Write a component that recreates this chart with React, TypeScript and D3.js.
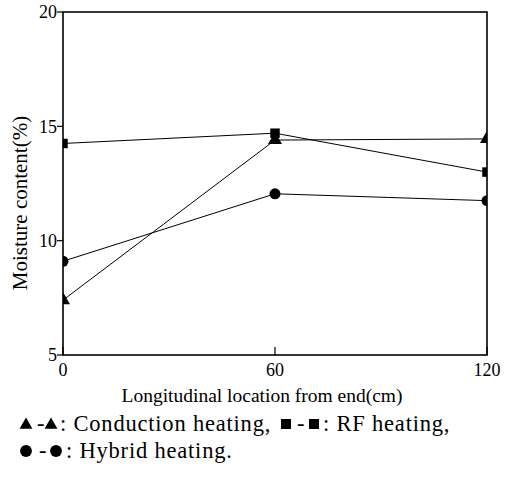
import React from 'react';
import * as d3 from 'd3';

// ─── data ─────────────────────────────────────────────────────────────────
const locations = [0, 60, 120];
const conduction = [7.4, 14.4, 14.45];
const rfHeating = [14.25, 14.7, 13.0];
const hybrid = [9.1, 12.05, 11.75];
const xTicks = [0, 60, 120];
const yTicks = [5, 10, 15, 20];

const W = 513;
const H = 490;
const m = { left: 63, right: 26, top: 12, bottom: 135 };
const FONT = '"Liberation Serif", "Times New Roman", serif';

const x = d3.scaleLinear().domain([0, 120]).range([m.left, W - m.right]);
const y = d3.scaleLinear().domain([5, 20]).range([H - m.bottom, m.top]);

const series = [
  { name: 'Conduction heating', values: conduction, symbol: d3.symbolTriangle, size: 85 },
  { name: 'RF heating', values: rfHeating, symbol: d3.symbolSquare, size: 90 },
  { name: 'Hybrid heating', values: hybrid, symbol: d3.symbolCircle, size: 95 },
];

const line = d3
  .line<number>()
  .x((_, i) => x(locations[i]))
  .y(d => y(d));

const sym = (type: d3.SymbolType, size: number) => d3.symbol().type(type).size(size)() as string;

const App: React.FC = () => {
  const x0 = x.range()[0];
  const x1 = x.range()[1];
  const y0 = y.range()[0];
  const y1 = y.range()[1];

  return (
    <svg width={W} height={H} style={{ position: 'absolute', left: 0, top: 0, background: '#fff' }}>
      <defs>
        <clipPath id="plot">
          <rect x={x0} y={y1} width={x1 - x0} height={y0 - y1} />
        </clipPath>
      </defs>

      {/* series */}
      <g clipPath="url(#plot)">
        {series.map(s => (
          <g key={s.name}>
            <path d={line(s.values) as string} fill="none" stroke="#000" strokeWidth={1} />
            {s.values.map((v, i) => (
              <path
                key={i}
                d={sym(s.symbol, s.size)}
                transform={`translate(${x(locations[i])},${y(v)})`}
                fill="#000"
              />
            ))}
          </g>
        ))}
      </g>

      {/* frame */}
      <rect x={x0} y={y1} width={x1 - x0} height={y0 - y1} fill="none" stroke="#000" strokeWidth={1.6} />

      {/* y ticks */}
      {yTicks.map(t => (
        <g key={t}>
          <line x1={x0 - 6} x2={x0} y1={y(t)} y2={y(t)} stroke="#000" strokeWidth={1.2} />
          <text x={x0 - 6} y={y(t)} dy="0.35em" textAnchor="end" fontFamily={FONT} fontSize={18}>
            {t}
          </text>
        </g>
      ))}

      {/* x ticks */}
      {xTicks.map(t => (
        <g key={t}>
          <line x1={x(t)} x2={x(t)} y1={y0} y2={y0 - 8} stroke="#000" strokeWidth={1.2} />
          <text x={x(t)} y={y0 + 21} textAnchor="middle" fontFamily={FONT} fontSize={18}>
            {t}
          </text>
        </g>
      ))}

      {/* axis titles */}
      <text
        transform={`translate(27,203) rotate(-90)`}
        textAnchor="middle"
        fontFamily={FONT}
        fontSize={21}
      >
        Moisture content(%)
      </text>
      <text x={262} y={402} textAnchor="middle" fontFamily={FONT} fontSize={19.5}>
        Longitudinal location from end(cm)
      </text>

      {/* legend */}
      <g fontFamily={FONT} fontSize={22.5} letterSpacing={0.8}>
        <path d={sym(d3.symbolTriangle, 72)} transform="translate(26,425)" fill="#000" />
        <text x={37} y={431}>-</text>
        <path d={sym(d3.symbolTriangle, 72)} transform="translate(51,425)" fill="#000" />
        <text x={60} y={431}>: Conduction heating,</text>
        <path d={sym(d3.symbolSquare, 100)} transform="translate(286,424)" fill="#000" />
        <text x={297} y={431}>-</text>
        <path d={sym(d3.symbolSquare, 100)} transform="translate(314,424)" fill="#000" />
        <text x={323} y={431}>: RF heating,</text>

        <path d={sym(d3.symbolCircle, 110)} transform="translate(26,451)" fill="#000" />
        <text x={39} y={458}>-</text>
        <path d={sym(d3.symbolCircle, 110)} transform="translate(56,451)" fill="#000" />
        <text x={66} y={458}>: Hybrid heating.</text>
      </g>
    </svg>
  );
};

export default App;
